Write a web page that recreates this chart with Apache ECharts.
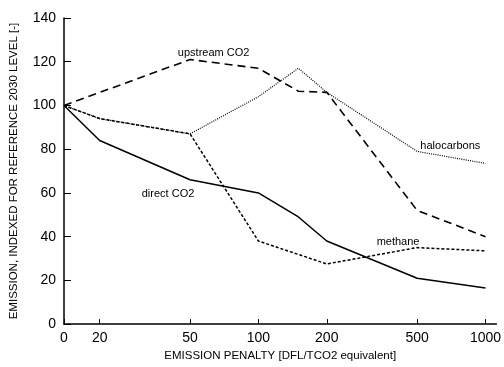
<!DOCTYPE html>
<html>
<head>
<meta charset="utf-8">
<script src="https://cdn.jsdelivr.net/npm/echarts@6/dist/echarts.min.js"></script>
<style>
html, body { margin: 0; padding: 0; background: #fff; }
#container { width: 504px; height: 367px; }
</style>
</head>
<body>
<div id="container"></div>
<script>
// data (x = emission penalty, y = indexed emission)
var xTicks = [0, 20, 50, 100, 200, 500, 1000];
var yTicks = [0, 20, 40, 60, 80, 100, 120, 140];

var directX = [0, 20, 50, 100, 150, 200, 500, 1000];
var directY = [100, 84, 66, 60, 49, 38, 21, 16.5];

var upstreamX = [0, 50, 100, 150, 200, 500, 1000];
var upstreamY = [100, 121, 117, 106.5, 106, 52, 40];

var methaneX = [0, 20, 50, 100, 200, 500, 1000];
var methaneY = [100, 94, 87, 38, 27.5, 35, 33.5];

var haloX = [0, 20, 50, 100, 150, 200, 500, 1000];
var haloY = [100, 94, 87, 104, 117, 106, 79, 73.5];

// the x axis is logarithmic, with 0 drawn at the left end
var X0 = 1.144;
function toX(v) {
    return v === 0 ? X0 : Math.log10(v);
}
function pairs(xs, ys) {
    var out = [];
    for (var i = 0; i < xs.length; i++) {
        out.push([toX(xs[i]), ys[i]]);
    }
    return out;
}
function tickName(val) {
    for (var i = 0; i < xTicks.length; i++) {
        if (Math.abs(toX(xTicks[i]) - val) < 1e-6) return String(xTicks[i]);
    }
    return '';
}
var font = 'Liberation Sans, Arial, sans-serif';

// series name placed at a spot in data units
function note(text, px, val) {
    return {
        symbol: 'circle',
        symbolSize: 2,
        itemStyle: { color: 'rgba(0,0,0,0)' },
        data: [{
            coord: [toX(px), val],
            label: {
                show: true, position: 'inside', formatter: text,
                color: '#000', fontSize: 11, fontFamily: font
            }
        }]
    };
}

var myChart = echarts.init(document.getElementById('container'));
var option = {
    backgroundColor: '#fff',
    animation: false,
    grid: { left: 61, top: 18, width: 436, height: 311 },
    xAxis: {
        type: 'value',
        min: X0,
        max: 3.048,
        name: 'EMISSION PENALTY [DFL/TCO2 equivalent]',
        nameLocation: 'middle',
        nameGap: 24,
        nameTextStyle: { color: '#000', fontSize: 11.5, fontFamily: font },
        axisLine: { lineStyle: { color: '#000', width: 1.5 } },
        axisTick: { inside: true, length: 5, customValues: xTicks.map(toX), lineStyle: { color: '#000' } },
        axisLabel: {
            customValues: xTicks.map(toX),
            formatter: tickName,
            color: '#000', fontSize: 14, fontFamily: font, margin: 7
        },
        splitLine: { show: false }
    },
    yAxis: {
        type: 'value',
        min: 0,
        max: 140,
        interval: 20,
        name: 'EMISSION, INDEXED FOR REFERENCE 2030 LEVEL [-]',
        nameLocation: 'middle',
        nameGap: 44,
        nameRotate: 90,
        nameTextStyle: { color: '#000', fontSize: 11.5, fontFamily: font },
        axisLine: { show: true, lineStyle: { color: '#000', width: 1.5 } },
        axisTick: { show: true, inside: true, length: 7, lineStyle: { color: '#000' } },
        axisLabel: { color: '#000', fontSize: 14, fontFamily: font, margin: 8 },
        splitLine: { show: false }
    },
    series: [
        {
            name: 'direct CO2', type: 'line', symbol: 'none',
            data: pairs(directX, directY),
            lineStyle: { color: '#000', width: 1.5, type: 'solid' },
            markPoint: note('direct CO2', 40, 59.3)
        },
        {
            name: 'upstream CO2', type: 'line', symbol: 'none',
            data: pairs(upstreamX, upstreamY),
            lineStyle: { color: '#000', width: 1.6, type: [8, 5] },
            markPoint: note('upstream CO2', 63.5, 124.2)
        },
        {
            name: 'methane', type: 'line', symbol: 'none',
            data: pairs(methaneX, methaneY),
            lineStyle: { color: '#000', width: 1.5, type: [3, 2] },
            markPoint: note('methane', 412, 37.5)
        },
        {
            name: 'halocarbons', type: 'line', symbol: 'none',
            data: pairs(haloX, haloY),
            lineStyle: { color: '#000', width: 1.2, type: [1, 1.2] },
            markPoint: note('halocarbons', 700, 81.5)
        }
    ]
};
myChart.setOption(option);
</script>
</body>
</html>
